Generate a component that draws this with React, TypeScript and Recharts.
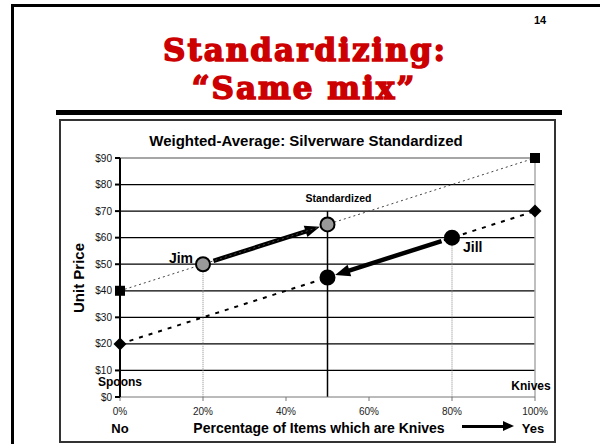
import React from "react";
import {
  ComposedChart,
  Scatter,
  XAxis,
  YAxis,
  ReferenceLine,
} from "recharts";

// ---- data ----
const X_TICKS = [0, 20, 40, 60, 80, 100];
const Y_TICKS = [0, 10, 20, 30, 40, 50, 60, 70, 80, 90];
const GRID_VALUES = [10, 20, 30, 40, 50, 60, 70, 80];

// upper line (squares) and lower line (diamonds): price at 0% / 100% knives
const upperLine = [
  { x: 0, y: 40 },
  { x: 100, y: 90 },
];
const lowerLine = [
  { x: 0, y: 20 },
  { x: 100, y: 70 },
];

// people / standardized points
const grayPoints = [
  { x: 20, y: 50, name: "Jim" },
  { x: 50, y: 65, name: "Standardized" },
];
const blackPoints = [
  { x: 50, y: 45, name: "" },
  { x: 80, y: 60, name: "Jill" },
];

// vertical drop lines [x, top, bottom]
const dottedDrops = [
  [20, 50, 0],
  [80, 60, 0],
];
const solidDrop = [50, 70, 0];

// arrows: from -> to
const arrows = [
  { from: { x: 20, y: 50 }, to: { x: 50, y: 65 } },
  { from: { x: 80, y: 60 }, to: { x: 50, y: 45 } },
];

const LABEL_STYLE: Record<string, { dx: number; dy: number; anchor: string; size: number }> = {
  Jim: { dx: -10, dy: -6, anchor: "end", size: 14 },
  Standardized: { dx: 11, dy: -26, anchor: "middle", size: 10.5 },
  Jill: { dx: 11, dy: 9, anchor: "start", size: 14 },
};

const FONT = "'Liberation Sans', Arial, sans-serif";
const TITLE_FONT = "'DejaVu Serif', 'DejaVu Serif Condensed', serif";

function Square(p: any) {
  return <rect x={p.cx - 5} y={p.cy - 5} width={10} height={10} fill="#000" />;
}

function Diamond(p: any) {
  const s = 6.5;
  return (
    <polygon
      points={`${p.cx},${p.cy - s} ${p.cx + s},${p.cy} ${p.cx},${p.cy + s} ${p.cx - s},${p.cy}`}
      fill="#000"
    />
  );
}

function makeCircle(fill: string) {
  return (p: any) => {
    const name = p.payload?.name;
    const ls = name ? LABEL_STYLE[name] : null;
    return (
      <g>
        <circle cx={p.cx} cy={p.cy} r={7} fill={fill} stroke="#000" strokeWidth={2} />
        {ls && (
          <text
            x={p.cx + ls.dx}
            y={p.cy + ls.dy}
            textAnchor={ls.anchor as any}
            dominantBaseline="central"
            fontFamily={FONT}
            fontWeight="bold"
            fontSize={ls.size}
            fill="#000"
          >
            {name}
          </text>
        )}
      </g>
    );
  };
}

function Arrow(p: any) {
  const { x1, y1, x2, y2 } = p;
  const dx = x2 - x1;
  const dy = y2 - y1;
  const len = Math.sqrt(dx * dx + dy * dy);
  const ux = dx / len;
  const uy = dy / len;
  const sx = x1 + ux * 11;
  const sy = y1 + uy * 11;
  const ex = x2 - ux * 8;
  const ey = y2 - uy * 8;
  const head = 15;
  const half = 6;
  const bx = ex - ux * head;
  const by = ey - uy * head;
  return (
    <g>
      <line x1={sx} y1={sy} x2={bx + ux * 2} y2={by + uy * 2} stroke="#000" strokeWidth={4.5} />
      <polygon
        points={`${ex},${ey} ${bx - uy * half},${by + ux * half} ${bx + uy * half},${by - ux * half}`}
        fill="#000"
      />
    </g>
  );
}

const abs = (style: React.CSSProperties): React.CSSProperties => ({ position: "absolute", ...style });

const centered = (x: number, y: number, extra: React.CSSProperties): React.CSSProperties =>
  abs({
    left: x,
    top: y,
    transform: "translate(-50%, -50%)",
    whiteSpace: "nowrap",
    lineHeight: 1,
    ...extra,
  });

const titleStyle: React.CSSProperties = {
  fontFamily: TITLE_FONT,
  fontWeight: "bold",
  fontSize: 31,
  color: "#cc0000",
  WebkitTextStroke: "1.5px #cc0000",
  letterSpacing: 2,
};

export default function App() {
  return (
    <div
      style={{
        position: "absolute",
        left: 0,
        top: 0,
        width: 600,
        height: 444,
        background: "#fff",
        overflow: "hidden",
        fontFamily: FONT,
      }}
    >
      {/* slide frame */}
      <div style={abs({ left: 11, top: 4, width: 600, height: 3, background: "#000" })} />
      <div style={abs({ left: 11, top: 4, width: 3, height: 450, background: "#000" })} />
      <div style={centered(540, 20, { fontSize: 11, fontWeight: "bold" })}>14</div>

      {/* slide title */}
      <div style={centered(305, 50, titleStyle)}>Standardizing:</div>
      <div style={centered(304, 88, titleStyle)}>“Same mix”</div>
      <div style={abs({ left: 56, top: 110, width: 506, height: 5, background: "#000" })} />

      {/* chart box */}
      <div
        style={abs({
          left: 59,
          top: 119,
          width: 497,
          height: 324,
          border: "2px solid #333",
          boxSizing: "border-box",
        })}
      />

      <div style={abs({ left: 60, top: 120 })}>
        <ComposedChart
          width={495}
          height={321}
          margin={{ top: 38, right: 20, left: 20, bottom: 14 }}
        >
          <XAxis
            type="number"
            dataKey="x"
            domain={[0, 100]}
            ticks={X_TICKS}
            tickFormatter={(v) => `${v}%`}
            height={30}
            tickSize={4}
            tickMargin={7}
            stroke="#777"
            tick={{ fontSize: 10, fill: "#222", fontFamily: FONT }}
          />
          <YAxis
            type="number"
            dataKey="y"
            domain={[0, 90]}
            ticks={Y_TICKS}
            tickFormatter={(v) => `$${v}`}
            width={40}
            tickSize={5}
            tickMargin={3}
            stroke="#000"
            strokeWidth={2}
            tick={{ fontSize: 10, fill: "#111", fontFamily: FONT }}
          />

          {GRID_VALUES.map((v) => (
            <ReferenceLine key={v} y={v} stroke="#000" strokeWidth={1.2} />
          ))}
          <ReferenceLine y={90} stroke="#888" strokeWidth={1.5} />
          <ReferenceLine x={100} stroke="#aaa" strokeWidth={1.5} />

          {dottedDrops.map(([x, top, bottom]) => (
            <ReferenceLine
              key={x}
              segment={[
                { x, y: top },
                { x, y: bottom },
              ]}
              stroke="#888"
              strokeWidth={1}
              strokeDasharray="1 1"
            />
          ))}
          <ReferenceLine
            segment={[
              { x: solidDrop[0], y: solidDrop[1] },
              { x: solidDrop[0], y: solidDrop[2] },
            ]}
            stroke="#000"
            strokeWidth={1.5}
          />

          <Scatter
            data={upperLine}
            line={{ stroke: "#444", strokeWidth: 1, strokeDasharray: "2 3" }}
            shape={Square}
            isAnimationActive={false}
          />
          <Scatter
            data={lowerLine}
            line={{ stroke: "#000", strokeWidth: 2, strokeDasharray: "4 6" }}
            shape={Diamond}
            isAnimationActive={false}
          />

          {arrows.map((a, i) => (
            <ReferenceLine key={i} segment={[a.from, a.to]} shape={Arrow} />
          ))}

          <Scatter data={grayPoints} shape={makeCircle("#999")} isAnimationActive={false} />
          <Scatter data={blackPoints} shape={makeCircle("#000")} isAnimationActive={false} />
        </ComposedChart>
      </div>

      {/* chart texts */}
      <div style={centered(306, 140, { fontSize: 15, fontWeight: "bold" })}>
        Weighted-Average: Silverware Standardized
      </div>
      <div
        style={abs({
          left: 78,
          top: 278,
          transform: "translate(-50%, -50%) rotate(-90deg)",
          whiteSpace: "nowrap",
          lineHeight: 1,
          fontSize: 15,
          fontWeight: "bold",
        })}
      >
        Unit Price
      </div>
      <div style={centered(120, 382, { fontSize: 12, fontWeight: "bold" })}>Spoons</div>
      <div style={centered(531, 386, { fontSize: 12, fontWeight: "bold" })}>Knives</div>
      <div style={centered(120, 428, { fontSize: 13, fontWeight: "bold" })}>No</div>
      <div style={centered(319, 428, { fontSize: 14, fontWeight: "bold" })}>
        Percentage of Items which are Knives
      </div>
      <div style={abs({ left: 462, top: 425, width: 42, height: 3, background: "#000" })} />
      <div
        style={abs({
          left: 503,
          top: 421,
          width: 0,
          height: 0,
          borderTop: "5.5px solid transparent",
          borderBottom: "5.5px solid transparent",
          borderLeft: "11px solid #000",
        })}
      />
      <div style={centered(533, 428, { fontSize: 13, fontWeight: "bold" })}>Yes</div>
    </div>
  );
}
